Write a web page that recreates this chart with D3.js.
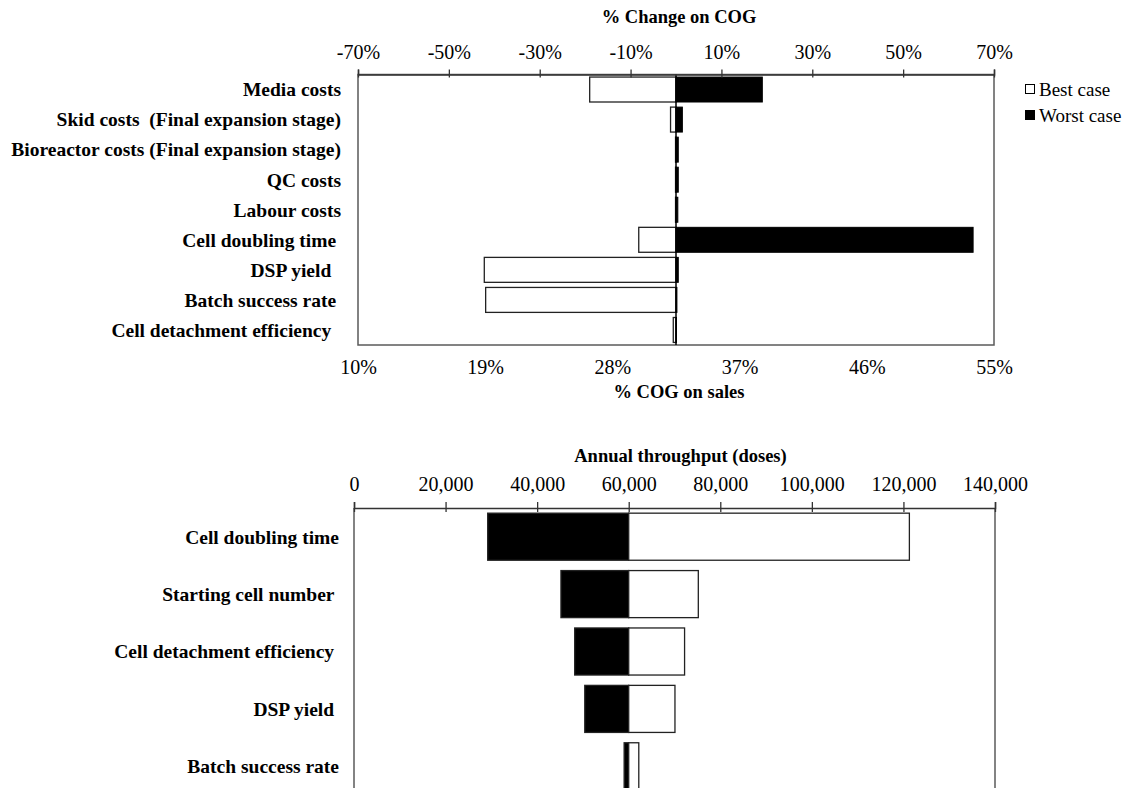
<!DOCTYPE html>
<html>
<head>
<meta charset="utf-8">
<script src="https://cdn.jsdelivr.net/npm/d3@7"></script>
<style>
  body { margin: 0; background: #fff; }
  svg { font-family: "Liberation Serif", "Times New Roman", serif; }
  .lbl { white-space: pre; }
</style>
</head>
<body>
<svg id="chart" width="1129" height="788"></svg>
<script>
// ---- data: cost of goods sensitivity (% change on COG) ----
var costCategories = ["Media costs", "Skid costs  (Final expansion stage)", "Bioreactor costs (Final expansion stage)",
  "QC costs", "Labour costs", "Cell doubling time ", "DSP yield  ", "Batch success rate ", "Cell detachment efficiency  "];
var costBest  = [-19, -1.2, -0.1, -0.1, -0.1, -8.2, -42.2, -41.9, -0.6];
var costWorst = [19, 1.4, 0.5, 0.5, 0.4, 65.4, 0.5, 0.2, 0.1];
var changeTicks = [-70, -50, -30, -10, 10, 30, 50, 70];
var salesTicks = [10, 19, 28, 37, 46, 55];

// ---- data: annual throughput sensitivity (doses) ----
var doseCategories = ["Cell doubling time", "Starting cell number ", "Cell detachment efficiency ", "DSP yield ", "Batch success rate"];
var doseBase = 60000;
var doseWorst = [29200, 45200, 48200, 50400, 59000];
var doseBest  = [121300, 75200, 72200, 70100, 62200];
var doseTicks = [0, 20000, 40000, 60000, 80000, 100000, 120000, 140000];

var svg = d3.select("#chart");
var borderCol = "#5a5a5a";
var tickFont = 20, catFont = 19.5, titleFont = 18.5;

// ================= top chart =================
var top1 = 74.5, bot1 = 345, left1 = 358, right1 = 994;
var x1 = d3.scaleLinear().domain([-70, 70]).range([left1, right1]);
var xs = d3.scaleLinear().domain([10, 55]).range([left1, right1]);
var y1 = d3.scaleBand().domain(costCategories).range([top1, bot1]).paddingInner(0.17).paddingOuter(0.085);

var g1 = svg.append("g");

// frame
g1.append("rect").attr("x", left1).attr("y", top1).attr("width", right1 - left1).attr("height", bot1 - top1)
  .attr("fill", "none").attr("stroke", borderCol).attr("stroke-width", 1.5);

// best case bars (white)
g1.selectAll(".best").data(costCategories).enter().append("rect")
  .attr("x", function(d, i){ return x1(Math.min(0, costBest[i])); })
  .attr("y", function(d){ return y1(d); })
  .attr("width", function(d, i){ return Math.abs(x1(costBest[i]) - x1(0)); })
  .attr("height", y1.bandwidth())
  .attr("fill", "#fff").attr("stroke", "#222").attr("stroke-width", 1.3);

// worst case bars (black)
g1.selectAll(".worst").data(costCategories).enter().append("rect")
  .attr("x", function(d, i){ return x1(Math.min(0, costWorst[i])); })
  .attr("y", function(d){ return y1(d); })
  .attr("width", function(d, i){ return Math.abs(x1(costWorst[i]) - x1(0)); })
  .attr("height", y1.bandwidth())
  .attr("fill", "#000").attr("stroke", "#000").attr("stroke-width", 1);

// zero line
g1.append("line").attr("x1", x1(0)).attr("x2", x1(0)).attr("y1", top1).attr("y2", bot1)
  .attr("stroke", "#000").attr("stroke-width", 1.5);

// top axis
var ax1 = g1.append("g").attr("transform", "translate(0," + top1 + ")")
  .call(d3.axisTop(x1).tickValues(changeTicks).tickSize(5).tickPadding(11).tickFormat(function(d){ return d + "%"; }));
ax1.select(".domain").attr("stroke", "#333").attr("stroke-width", 1.5);
ax1.selectAll(".tick line").attr("y1", 3).attr("stroke", "#333").attr("stroke-width", 1.3);
ax1.selectAll(".tick text").attr("font-size", tickFont).attr("fill", "#000").style("font-family", "Liberation Serif");

// bottom secondary axis (labels only)
var ax1b = g1.append("g").attr("transform", "translate(0," + bot1 + ")")
  .call(d3.axisBottom(xs).tickValues(salesTicks).tickSize(0).tickPadding(15).tickFormat(function(d){ return d + "%"; }));
ax1b.select(".domain").remove();
ax1b.selectAll(".tick text").attr("font-size", tickFont).attr("fill", "#000").style("font-family", "Liberation Serif");

// category labels
g1.selectAll(".cat").data(costCategories).enter().append("text")
  .attr("class", "lbl")
  .attr("x", 341).attr("y", function(d){ return y1(d) + y1.bandwidth() / 2; })
  .attr("dy", "0.35em").attr("text-anchor", "end")
  .attr("font-size", catFont).attr("font-weight", "bold").text(function(d){ return d; });

// titles
g1.append("text").attr("x", x1(0) + 3).attr("y", 23).attr("text-anchor", "middle")
  .attr("font-size", titleFont).attr("font-weight", "bold").text("% Change on COG");
g1.append("text").attr("x", x1(0) + 3).attr("y", 398).attr("text-anchor", "middle")
  .attr("font-size", titleFont).attr("font-weight", "bold").text("% COG on sales");

// legend
var legend = g1.append("g").attr("transform", "translate(1025,0)");
var legendItems = [["Best case", "#fff", 89], ["Worst case", "#000", 115]];
legend.selectAll("rect").data(legendItems).enter().append("rect")
  .attr("x", 0.5).attr("y", function(d){ return d[2] - 4.5; }).attr("width", 9).attr("height", 9)
  .attr("fill", function(d){ return d[1]; }).attr("stroke", "#000").attr("stroke-width", 1);
legend.selectAll("text").data(legendItems).enter().append("text")
  .attr("x", 14).attr("y", function(d){ return d[2]; }).attr("dy", "0.35em")
  .attr("font-size", 19).text(function(d){ return d[0]; });

// ================= bottom chart =================
var top2 = 508, left2 = 354, right2 = 995, band2 = 57.4;
var x2 = d3.scaleLinear().domain([0, 140000]).range([left2, right2]);
var y2 = d3.scaleBand().domain(doseCategories).range([top2, top2 + band2 * doseCategories.length]).paddingInner(0.18).paddingOuter(0.09);

var g2 = svg.append("g");

// side borders
g2.selectAll(".side").data([left2, right2]).enter().append("line")
  .attr("x1", function(d){ return d; }).attr("x2", function(d){ return d; })
  .attr("y1", top2).attr("y2", 800).attr("stroke", borderCol).attr("stroke-width", 1.5);

g2.selectAll(".w").data(doseCategories).enter().append("rect")
  .attr("x", function(d, i){ return x2(doseWorst[i]); })
  .attr("y", function(d){ return y2(d); })
  .attr("width", function(d, i){ return x2(doseBase) - x2(doseWorst[i]); })
  .attr("height", y2.bandwidth())
  .attr("fill", "#000").attr("stroke", "#222").attr("stroke-width", 1.3);

g2.selectAll(".b").data(doseCategories).enter().append("rect")
  .attr("x", x2(doseBase))
  .attr("y", function(d){ return y2(d); })
  .attr("width", function(d, i){ return x2(doseBest[i]) - x2(doseBase); })
  .attr("height", y2.bandwidth())
  .attr("fill", "#fff").attr("stroke", "#222").attr("stroke-width", 1.3);

var ax2 = g2.append("g").attr("transform", "translate(0," + top2 + ")")
  .call(d3.axisTop(x2).tickValues(doseTicks).tickSize(6).tickPadding(11).tickFormat(d3.format(",")));
ax2.select(".domain").attr("stroke", "#333").attr("stroke-width", 1.5);
ax2.selectAll(".tick line").attr("y1", 4).attr("stroke", "#333").attr("stroke-width", 1.3);
ax2.selectAll(".tick text").attr("font-size", tickFont).attr("fill", "#000").style("font-family", "Liberation Serif");

g2.selectAll(".cat").data(doseCategories).enter().append("text")
  .attr("class", "lbl")
  .attr("x", 339).attr("y", function(d){ return y2(d) + y2.bandwidth() / 2; })
  .attr("dy", "0.35em").attr("text-anchor", "end")
  .attr("font-size", catFont).attr("font-weight", "bold").text(function(d){ return d; });

g2.append("text").attr("x", x2(70000) + 6).attr("y", 462).attr("text-anchor", "middle")
  .attr("font-size", titleFont).attr("font-weight", "bold").text("Annual throughput (doses)");
</script>
</body>
</html>
